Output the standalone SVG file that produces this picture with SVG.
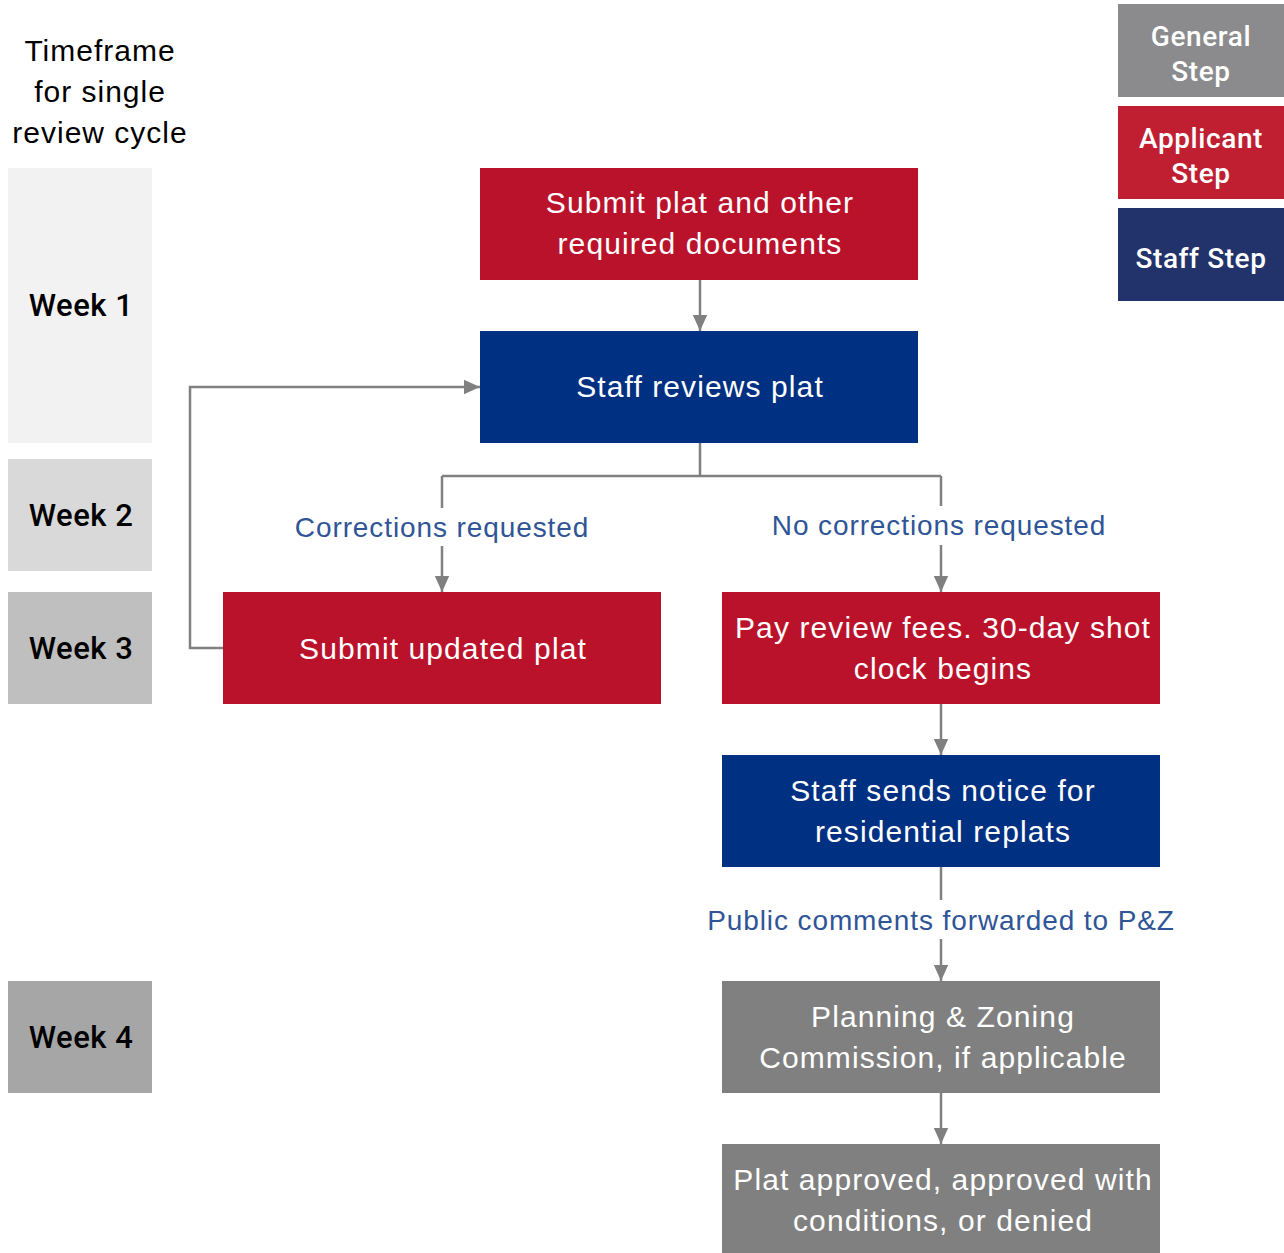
<svg xmlns="http://www.w3.org/2000/svg" width="1284" height="1253" viewBox="0 0 1284 1253">
<defs>
<style>
.t{font-family:"Liberation Sans",Arial,sans-serif;font-size:30px;letter-spacing:1.1px;fill:#fff;text-anchor:middle}
.tf{font-family:"Liberation Sans",Arial,sans-serif;font-size:30px;letter-spacing:1px;fill:#000;text-anchor:middle}
.wk{font-family:Roboto,"Liberation Sans",sans-serif;font-size:31px;font-weight:500;letter-spacing:0.5px;fill:#000;text-anchor:middle}
.lg{font-family:Roboto,"Liberation Sans",sans-serif;font-size:28px;font-weight:500;letter-spacing:0.6px;fill:#fff;text-anchor:middle}
.lb{font-family:"Liberation Sans",Arial,sans-serif;font-size:28px;letter-spacing:0.9px;fill:#2f5597;text-anchor:middle}
.c{fill:none;stroke:#808080;stroke-width:2.5}
.app{fill:#ba122b}.stf{fill:#003082}.gen{fill:#808080}
</style>
<marker id="ah" viewBox="0 0 10 10" refX="10" refY="5" markerWidth="16" markerHeight="16" markerUnits="userSpaceOnUse" orient="auto">
<path d="M0,0.5 L10,5 L0,9.5 Z" fill="#808080"/>
</marker>
</defs>
<rect width="1284" height="1253" fill="#fff"/>
<g id="timeframe">
<text class="tf" x="100" y="61">Timeframe</text>
<text class="tf" x="100" y="102">for single</text>
<text class="tf" x="100" y="143">review cycle</text>
</g>
<g id="week1"><rect x="8" y="168" width="144" height="275" fill="#f2f2f2"/><text class="wk" x="81" y="316">Week 1</text></g>
<g id="week2"><rect x="8" y="459" width="144" height="112" fill="#d9d9d9"/><text class="wk" x="81" y="526">Week 2</text></g>
<g id="week3"><rect x="8" y="592" width="144" height="112" fill="#bfbfbf"/><text class="wk" x="81" y="659">Week 3</text></g>
<g id="week4"><rect x="8" y="981" width="144" height="112" fill="#a6a6a6"/><text class="wk" x="81" y="1048">Week 4</text></g>
<g id="legend-general"><rect x="1118" y="4" width="166" height="93" fill="#8b8b8d"/><text class="lg" x="1201" y="46">General</text><text class="lg" x="1201" y="81">Step</text></g>
<g id="legend-applicant"><rect x="1118" y="106" width="166" height="93" fill="#c01f32"/><text class="lg" x="1201" y="148">Applicant</text><text class="lg" x="1201" y="183">Step</text></g>
<g id="legend-staff"><rect x="1118" y="208" width="166" height="93" fill="#22336b"/><text class="lg" x="1201" y="268">Staff Step</text></g>
<g id="connectors">
<path class="c" d="M700,280 V331" marker-end="url(#ah)"/>
<path class="c" d="M700,443 V476 M442,476 H941"/>
<path class="c" d="M442,476 V508"/>
<path class="c" d="M442,546 V592" marker-end="url(#ah)"/>
<path class="c" d="M941,476 V506"/>
<path class="c" d="M941,545 V592" marker-end="url(#ah)"/>
<path class="c" d="M223,648 H190 V387 H480" marker-end="url(#ah)"/>
<path class="c" d="M941,704 V755" marker-end="url(#ah)"/>
<path class="c" d="M941,867 V900"/>
<path class="c" d="M941,939 V981" marker-end="url(#ah)"/>
<path class="c" d="M941,1093 V1144" marker-end="url(#ah)"/>
<text class="lb" x="442" y="537">Corrections requested</text>
<text class="lb" x="939" y="535">No corrections requested</text>
<text class="lb" x="941" y="930">Public comments forwarded to P&amp;Z</text>
</g>
<g id="submit-plat"><rect class="app" x="480" y="168" width="438" height="112"/><text class="t" x="700" y="213">Submit plat and other</text><text class="t" x="700" y="254">required documents</text></g>
<g id="staff-reviews"><rect class="stf" x="480" y="331" width="438" height="112"/><text class="t" x="700" y="397">Staff reviews plat</text></g>
<g id="submit-updated"><rect class="app" x="223" y="592" width="438" height="112"/><text class="t" x="443" y="659">Submit updated plat</text></g>
<g id="pay-fees"><rect class="app" x="722" y="592" width="438" height="112"/><text class="t" x="943" y="638">Pay review fees. 30-day shot</text><text class="t" x="943" y="679">clock begins</text></g>
<g id="staff-notice"><rect class="stf" x="722" y="755" width="438" height="112"/><text class="t" x="943" y="801">Staff sends notice for</text><text class="t" x="943" y="842">residential replats</text></g>
<g id="pz"><rect class="gen" x="722" y="981" width="438" height="112"/><text class="t" x="943" y="1027">Planning &amp; Zoning</text><text class="t" x="943" y="1068">Commission, if applicable</text></g>
<g id="approved"><rect class="gen" x="722" y="1144" width="438" height="109"/><text class="t" x="943" y="1190">Plat approved, approved with</text><text class="t" x="943" y="1231">conditions, or denied</text></g>
</svg>
